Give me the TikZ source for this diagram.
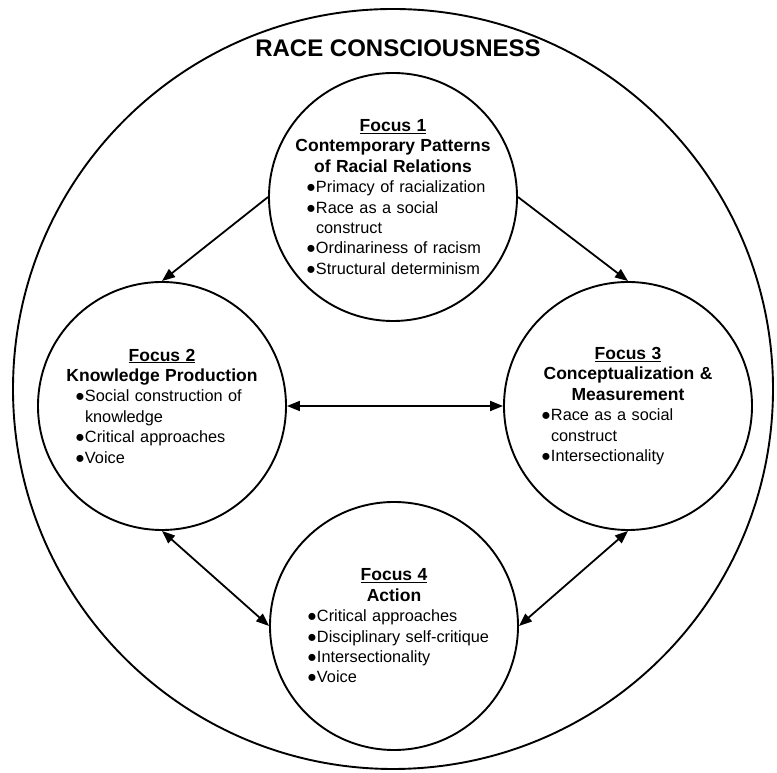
\documentclass[tikz,border=0pt]{standalone}
\usepackage{fontspec}
\setmainfont{Liberation Sans}
\usepackage{tikz}
\usetikzlibrary{shapes,arrows.meta,positioning,calc}

\newcommand{\focushead}[2]{{\centering\fontsize{17.5}{20.4}\selectfont\bfseries\underline{#1}\\#2\par}}
\newcommand{\bul}[1]{\par\noindent\hspace*{18pt}\makebox[10pt][l]{●}#1}
\newcommand{\cont}[1]{\par\noindent\hspace*{28pt}#1}

\begin{document}
\begin{tikzpicture}[x=1pt,y=1pt,
    ring/.style={draw,circle,line width=1.9pt,minimum size=248pt,inner sep=0pt},
    focustext/.style={text width=210pt,align=left,inner sep=0pt,font=\fontsize{16.3}{20.4}\selectfont},
    oneway/.style={line width=1.8pt,-{Triangle[length=13pt,width=10pt]}},
    twoway/.style={line width=1.8pt,{Triangle[length=13pt,width=10pt]}-{Triangle[length=13pt,width=10pt]}}]
    \useasboundingbox (0,0) rectangle (777,773);

    \node[draw,circle,line width=1.9pt,minimum size=760pt,inner sep=0pt] (race) at (393,384) {}; % Outer circle
    \node[font=\fontsize{24}{28}\selectfont\bfseries] (title) at (398,725) {RACE CONSCIOUSNESS};

    \node[ring] (f1) at (393,576) {}; % Focus 1
    \node[ring] (f2) at (162,367) {}; % Focus 2
    \node[ring] (f3) at (628,367) {}; % Focus 3
    \node[ring] (f4) at (394,147) {}; % Focus 4

    \node[focustext] (t1) at (f1) {\focushead{Focus 1}{Contemporary Patterns\\of Racial Relations}
        \bul{Primacy of racialization}
        \bul{Race as a social}
        \cont{construct}
        \bul{Ordinariness of racism}
        \bul{Structural determinism}};
    \node[focustext] (t2) at (f2) {\focushead{Focus 2}{Knowledge Production}
        \bul{Social construction of}
        \cont{knowledge}
        \bul{Critical approaches}
        \bul{Voice}};
    \node[focustext] (t3) at (f3) {\focushead{Focus 3}{Conceptualization \&\\Measurement}
        \bul{Race as a social}
        \cont{construct}
        \bul{Intersectionality}};
    \node[focustext] (t4) at (f4) {\focushead{Focus 4}{Action}
        \bul{Critical approaches}
        \bul{Disciplinary self-critique}
        \bul{Intersectionality}
        \bul{Voice}};

    \draw[oneway] (f1.west) -- (f2.north);
    \draw[oneway] (f1.east) -- (f3.north);
    \draw[twoway] (f2.east) -- (f3.west);
    \draw[twoway] (f2.south) -- (f4.west);
    \draw[twoway] (f3.south) -- (f4.east);
\end{tikzpicture}
\end{document}
